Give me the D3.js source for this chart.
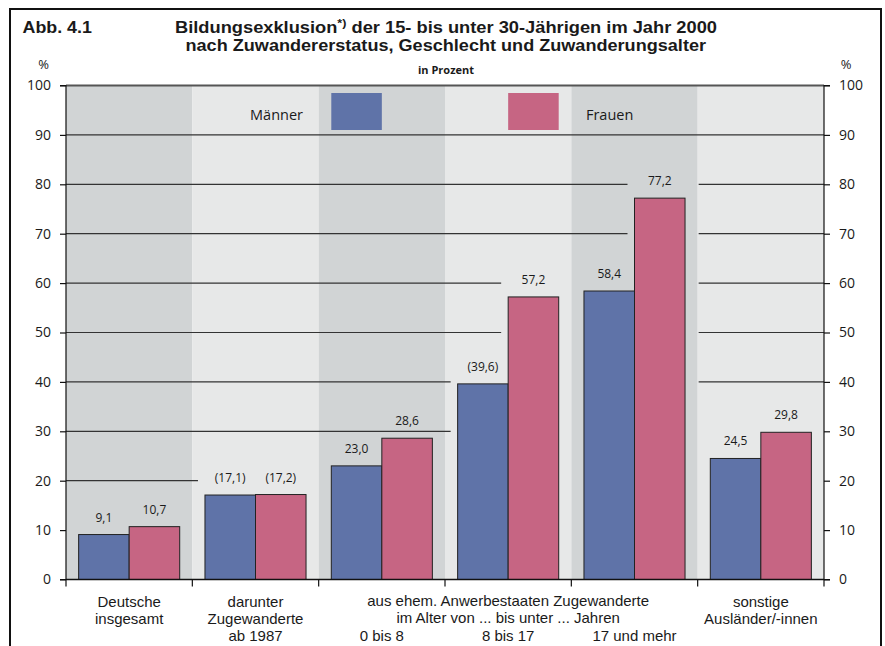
<!DOCTYPE html>
<html>
<head>
<meta charset="utf-8">
<script src="https://cdn.jsdelivr.net/npm/d3@7"></script>
<style>
  body { margin: 0; background: #fff; }
  svg { display: block; }
  text { font-family: "Open Sans", "Noto Sans", sans-serif; fill: #1a1a1a; }
  text.tight { font-family: "Liberation Sans", Arial, sans-serif; }
</style>
</head>
<body>
<svg id="chart" width="885" height="646"></svg>
<script>
// ---- data ----
const groups = ["Deutsche insgesamt", "darunter Zugewanderte ab 1987", "0 bis 8", "8 bis 17", "17 und mehr", "sonstige Ausländer/-innen"];
const groupLabelLines = [["Deutsche", "insgesamt"], ["darunter", "Zugewanderte", "ab 1987"], ["", "", "0 bis 8"], ["", "", "8 bis 17"], ["", "", "17 und mehr"], ["sonstige", "Ausländer/-innen"]];
const spanLabelLines = ["aus ehem. Anwerbestaaten Zugewanderte", "im Alter von ... bis unter ... Jahren"];
const spanFrom = 2, spanTo = 4;
const series = ["Männer", "Frauen"];
const maenner = [9.1, 17.1, 23.0, 39.6, 58.4, 24.5];
const frauen = [10.7, 17.2, 28.6, 57.2, 77.2, 29.8];
// values shown in brackets (low case numbers)
const maennerBracketed = [false, true, false, true, false, false];
const frauenBracketed = [false, true, false, false, false, false];
const yTicks = [0, 10, 20, 30, 40, 50, 60, 70, 80, 90, 100];
const titleLine1 = ["Bildungsexklusion", "*)", " der 15- bis unter 30-Jährigen im Jahr 2000"];
const titleLine2 = "nach Zuwandererstatus, Geschlecht und Zuwanderungsalter";
const figureNo = "Abb. 4.1";
const unitNote = "in Prozent";

const seriesColors = ["#5f73a8", "#c66583"];
const panelColors = ["#d1d4d5", "#e7e8e8"];

// ---- layout ----
const svg = d3.select("#chart");
const W = 885, H = 646;
const plot = { left: 66, right: 824, top: 85.5, bottom: 579.5 };

svg.append("rect").attr("width", W).attr("height", H).attr("fill", "#fff");

const x = d3.scaleBand().domain(groups).range([plot.left, plot.right]).paddingInner(0).paddingOuter(0);
const xs = d3.scaleBand().domain(series).range([0, x.bandwidth()]).paddingInner(0).paddingOuter(0.25);
const y = d3.scaleLinear().domain([0, 100]).range([plot.bottom, plot.top]);

const values = [maenner, frauen];
const bracketed = [maennerBracketed, frauenBracketed];
const fmt = v => d3.format(".1f")(v).replace(".", ",");

const rows = [];
groups.forEach((g, i) => series.forEach((s, j) => rows.push({
  g, i, s, j, v: values[j][i],
  label: bracketed[j][i] ? "(" + fmt(values[j][i]) + ")" : fmt(values[j][i])
})));

// outer frame
svg.append("path")
  .attr("d", `M10,${H + 5}V9H881V${H + 5}`)
  .attr("fill", "none").attr("stroke", "#111").attr("stroke-width", 2);

// alternating panels
svg.append("g").selectAll("rect").data(groups).join("rect")
  .attr("x", d => x(d)).attr("y", plot.top)
  .attr("width", x.bandwidth()).attr("height", plot.bottom - plot.top)
  .attr("fill", (d, i) => panelColors[i % 2]);

// gridlines: each line runs from the left and breaks at bars and value labels,
// resuming only where a whole group is free again
const labelOffset = 13, labelHeight = 10, vGapBar = 5, vGapLabel = 4, hGap = 7;
function firstObstacle(i, v) {
  const ly = y(v);
  let xo = null;
  series.forEach((s, j) => {
    const top = y(values[j][i]);
    const base = top - labelOffset;
    const hit = ly >= top - vGapBar || (ly >= base - labelHeight - vGapLabel && ly <= base + 1 + vGapLabel);
    if (hit) {
      const bx = x(groups[i]) + xs(s);
      if (xo === null || bx < xo) xo = bx;
    }
  });
  return xo;
}
const gridG = svg.append("g");
yTicks.filter(t => t > 0).forEach(t => {
  const segs = [];
  let running = true, start = plot.left;
  groups.forEach((g, i) => {
    const xo = firstObstacle(i, t);
    if (xo === null) {
      if (!running) { running = true; start = x(g) + 1; }
    } else if (running) {
      segs.push([start, xo - hGap]);
      running = false;
    }
  });
  if (running) segs.push([start, plot.right]);
  segs.filter(s => s[1] - s[0] > 12).forEach(s => {
    gridG.append("line")
      .attr("x1", s[0]).attr("x2", s[1])
      .attr("y1", y(t)).attr("y2", y(t))
      .attr("stroke", t === 100 ? "#555" : "#333")
      .attr("stroke-width", t === 100 ? 2 : 1.2);
  });
});

// legend inside the plot
const legend = svg.append("g");
const swTop = plot.top + 7.5, swH = 37;
legend.append("rect")
  .attr("x", x(groups[2]) + xs(series[0])).attr("y", swTop)
  .attr("width", xs.bandwidth()).attr("height", swH).attr("fill", seriesColors[0]);
legend.append("rect")
  .attr("x", x(groups[3]) + xs(series[1])).attr("y", swTop)
  .attr("width", xs.bandwidth()).attr("height", swH).attr("fill", seriesColors[1]);
legend.append("text")
  .attr("x", x(groups[1]) + xs(series[1]) + xs.bandwidth() - 3).attr("y", swTop + 26.5)
  .attr("text-anchor", "end").attr("font-size", 14.5).text(series[0]);
legend.append("text")
  .attr("x", x(groups[4]) + xs(series[0]) + 2).attr("y", swTop + 26.5)
  .attr("text-anchor", "start").attr("font-size", 14.5).text(series[1]);

// bars
svg.append("g").selectAll("rect").data(rows).join("rect")
  .attr("x", d => x(d.g) + xs(d.s))
  .attr("y", d => y(d.v))
  .attr("width", xs.bandwidth())
  .attr("height", d => y(0) - y(d.v))
  .attr("fill", d => seriesColors[d.j])
  .attr("stroke", "#222").attr("stroke-width", 1);

// value labels
svg.append("g").selectAll("text").data(rows).join("text")
  .attr("x", d => x(d.g) + xs(d.s) + xs.bandwidth() / 2)
  .attr("y", d => y(d.v) - labelOffset)
  .attr("text-anchor", "middle").attr("font-size", 12)
  .text(d => d.label);

// axes
const axisL = d3.axisLeft(y).tickValues(yTicks).tickSize(6).tickPadding(9).tickFormat(d3.format("d"));
const axisR = d3.axisRight(y).tickValues(yTicks).tickSize(6).tickPadding(9).tickFormat(d3.format("d"));
function styleAxis(g) {
  g.select(".domain").attr("stroke", "#111").attr("stroke-width", 1.2);
  g.selectAll(".tick line").attr("stroke", "#111").attr("stroke-width", 1.2);
  g.selectAll(".tick text").attr("font-size", 14).attr("fill", "#1a1a1a")
    .style("font-family", '"Open Sans", "Noto Sans", sans-serif');
}
svg.append("g").attr("transform", `translate(${plot.left},0)`).call(axisL).call(g => {
  styleAxis(g);
  g.select(".domain").attr("d", `M-6,${plot.top}H0V${plot.bottom}H-6`);
});
svg.append("g").attr("transform", `translate(${plot.right},0)`).call(axisR).call(g => {
  styleAxis(g);
  g.select(".domain").attr("d", `M6,${plot.top}H0V${plot.bottom}H6`);
});

// baseline with group separators
const bounds = groups.map(g => x(g)).concat([plot.right]);
svg.append("line").attr("x1", plot.left).attr("x2", plot.right)
  .attr("y1", plot.bottom).attr("y2", plot.bottom).attr("stroke", "#111").attr("stroke-width", 1.3);
svg.append("g").selectAll("line").data(bounds).join("line")
  .attr("x1", d => d).attr("x2", d => d)
  .attr("y1", plot.bottom).attr("y2", plot.bottom + 7)
  .attr("stroke", "#111").attr("stroke-width", 1.2);

// category labels (one multi-line text per group)
const lineY = [607, 624, 641];
const catG = svg.append("g").attr("font-size", 15).attr("text-anchor", "middle");
groups.forEach((g, i) => {
  const cx = x(g) + x.bandwidth() / 2;
  const t = catG.append("text").attr("class", "tight");
  groupLabelLines[i].forEach((line, k) => {
    if (!line) return;
    t.append("tspan").attr("x", cx).attr("y", lineY[k]).text(line);
  });
});
const spanCx = (x(groups[spanFrom]) + x(groups[spanTo]) + x.bandwidth()) / 2;
const spanT = catG.append("text").attr("class", "tight");
spanLabelLines.forEach((line, k) => {
  spanT.append("tspan").attr("x", spanCx).attr("y", lineY[k] - 1.5).text(line);
});

// unit markers
svg.append("text").attr("x", 43.5).attr("y", 69).attr("text-anchor", "middle").attr("font-size", 13).text("%");
svg.append("text").attr("x", 846).attr("y", 69).attr("text-anchor", "middle").attr("font-size", 13).text("%");

// headings, set to a condensed width
const fig = svg.append("text").attr("class", "tight").attr("font-size", 16).attr("font-weight", 700).text(figureNo);
{
  const w = fig.node().getComputedTextLength();
  fig.attr("transform", `translate(22.5,33) scale(${69.5 / w},1)`);
}

const title = svg.append("text").attr("class", "tight").attr("font-size", 16).attr("font-weight", 700);
const l1 = title.append("tspan").attr("x", 175).attr("y", 33);
l1.append("tspan").text(titleLine1[0]);
l1.append("tspan").attr("dy", -6).attr("font-size", 11).text(titleLine1[1]);
l1.append("tspan").attr("dy", 6).text(titleLine1[2]);
l1.attr("textLength", 542).attr("lengthAdjust", "spacingAndGlyphs");
title.append("tspan").attr("x", 185.5).attr("y", 51).text(titleLine2)
  .attr("textLength", 520.5).attr("lengthAdjust", "spacingAndGlyphs");

svg.append("text").attr("x", 446).attr("y", 74).attr("text-anchor", "middle")
  .attr("font-size", 11).attr("font-weight", 700).text(unitNote);
</script>
</body>
</html>
